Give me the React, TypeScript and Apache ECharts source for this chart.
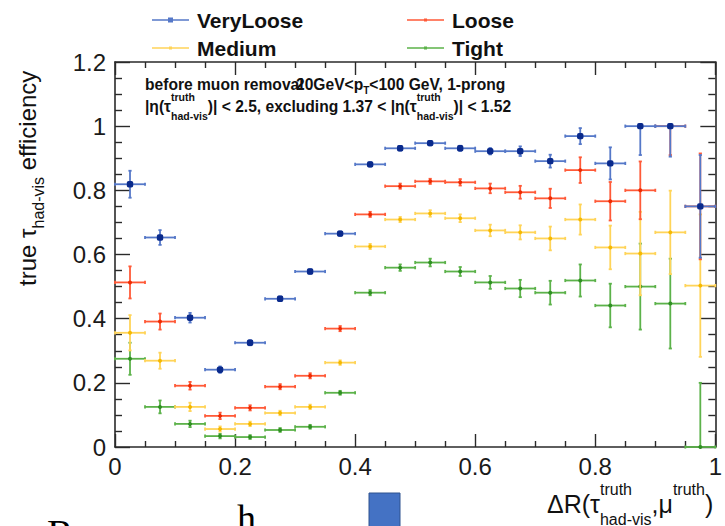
import React, { useEffect, useRef } from 'react';
import * as echarts from 'echarts';

// ---- data ----
const binCenters = [0.025, 0.075, 0.125, 0.175, 0.225, 0.275, 0.325, 0.375, 0.425, 0.475,
  0.525, 0.575, 0.625, 0.675, 0.725, 0.775, 0.825, 0.875, 0.925, 0.975];
const binHalfWidth = 0.025;

const veryLooseEff = [0.819, 0.653, 0.403, 0.241, 0.325, 0.462, 0.547, 0.665, 0.881, 0.931,
  0.947, 0.931, 0.922, 0.922, 0.891, 0.969, 0.884, 1.0, 1.0, 0.75];
const veryLooseErrLow = [0.042, 0.023, 0.015, 0.01, 0.008, 0.007, 0.007, 0.007, 0.007, 0.007,
  0.007, 0.008, 0.01, 0.015, 0.02, 0.025, 0.05, 0.09, 0.095, 0.16];
const veryLooseErrHigh = [0.042, 0.023, 0.015, 0.01, 0.008, 0.007, 0.007, 0.007, 0.007, 0.007,
  0.007, 0.008, 0.01, 0.015, 0.02, 0.025, 0.05, 0, 0, 0.16];

const looseEff = [0.513, 0.391, 0.191, 0.097, 0.122, 0.188, 0.222, 0.369, 0.725, 0.813,
  0.828, 0.825, 0.806, 0.794, 0.775, 0.863, 0.766, 0.8, 1.0, 0.75];
const looseErrLow = [0.05, 0.025, 0.012, 0.01, 0.008, 0.008, 0.008, 0.008, 0.008, 0.008,
  0.008, 0.01, 0.015, 0.02, 0.03, 0.04, 0.06, 0.09, 0.09, 0.165];
const looseErrHigh = [0.05, 0.025, 0.012, 0.01, 0.008, 0.008, 0.008, 0.008, 0.008, 0.008,
  0.008, 0.01, 0.015, 0.02, 0.03, 0.04, 0.06, 0.09, 0, 0.165];

const mediumEff = [0.356, 0.269, 0.125, 0.056, 0.072, 0.106, 0.125, 0.263, 0.625, 0.709,
  0.728, 0.713, 0.675, 0.669, 0.65, 0.709, 0.622, 0.603, 0.669, 0.503];
const mediumErr = [0.055, 0.025, 0.013, 0.008, 0.007, 0.007, 0.007, 0.007, 0.008, 0.008,
  0.01, 0.012, 0.018, 0.022, 0.037, 0.047, 0.068, 0.13, 0.13, 0.222];

const tightEff = [0.275, 0.125, 0.072, 0.034, 0.031, 0.053, 0.063, 0.169, 0.481, 0.559,
  0.575, 0.547, 0.513, 0.494, 0.481, 0.519, 0.441, 0.5, 0.447, 0.0];
const tightErrLow = [0.05, 0.02, 0.01, 0.007, 0.006, 0.006, 0.006, 0.006, 0.008, 0.01,
  0.012, 0.014, 0.02, 0.027, 0.037, 0.05, 0.068, 0.134, 0.14, 0];
const tightErrHigh = [0.05, 0.02, 0.01, 0.007, 0.006, 0.006, 0.006, 0.006, 0.008, 0.01,
  0.012, 0.014, 0.02, 0.027, 0.037, 0.05, 0.068, 0.134, 0.14, 0.2];

const seriesNames = ['VeryLoose', 'Loose', 'Medium', 'Tight'];

// ---- styles ----
const FONT = '"Liberation Sans", Arial, Helvetica, sans-serif';
const SERIF = '"Liberation Serif", "Times New Roman", serif';
const AXIS_COLOR = '#2a2a2a';
const STYLE: Record<string, { line: string; marker: string; big: boolean }> = {
  VeryLoose: { line: '#5578c8', marker: '#0a2a8c', big: true },
  Loose: { line: '#ff5a38', marker: '#ee2a00', big: false },
  Medium: { line: '#ffd459', marker: '#f5b800', big: false },
  Tight: { line: '#5cb24a', marker: '#2f8f22', big: false },
};

function buildData(eff: number[], lo: number[], hi: number[]) {
  return binCenters.map((x, i) => [x, eff[i], lo[i], hi[i]]);
}

const measureCtx = (() => {
  if (typeof document === 'undefined') return null;
  return document.createElement('canvas').getContext('2d');
})();
function textWidth(text: string, size: number, weight: string, family: string) {
  if (!measureCtx) return text.length * size * 0.55;
  measureCtx.font = `${weight} ${size}px ${family}`;
  return measureCtx.measureText(text).width;
}

type Seg =
  | { text: string; size: number }
  | { sup?: string; sub?: string; size: number; supDy?: number; subDy?: number };

function layoutLine(segs: Seg[], x0: number, y0: number, weight: string, fill: string, family = FONT) {
  const els: any[] = [];
  let x = x0;
  for (const s of segs) {
    if ('text' in s) {
      els.push({
        type: 'text', x, y: y0, silent: true,
        style: { text: s.text, fill, fontSize: s.size, fontWeight: weight, fontFamily: family, align: 'left', verticalAlign: 'middle' },
      });
      x += textWidth(s.text, s.size, weight, family);
    } else {
      let w = 0;
      if (s.sup) {
        els.push({
          type: 'text', x, y: y0 + (s.supDy ?? 0), silent: true,
          style: { text: s.sup, fill, fontSize: s.size, fontWeight: weight, fontFamily: family, align: 'left', verticalAlign: 'middle' },
        });
        w = Math.max(w, textWidth(s.sup, s.size, weight, family));
      }
      if (s.sub) {
        els.push({
          type: 'text', x, y: y0 + (s.subDy ?? 0), silent: true,
          style: { text: s.sub, fill, fontSize: s.size, fontWeight: weight, fontFamily: family, align: 'left', verticalAlign: 'middle' },
        });
        w = Math.max(w, textWidth(s.sub, s.size, weight, family));
      }
      x += w;
    }
  }
  return els;
}

function makeRenderItem(name: string) {
  const st = STYLE[name];
  return (params: any, api: any) => {
    const x = api.value(0);
    const y = api.value(1);
    const lo = api.value(2);
    const hi = api.value(3);
    const c = api.coord([x, y]);
    const l = api.coord([x - binHalfWidth, y]);
    const r = api.coord([x + binHalfWidth, y]);
    const t = api.coord([x, y + hi]);
    const b = api.coord([x, y - lo]);
    const ls = { stroke: st.line, lineWidth: 1.8 };
    const cap = 1.6;
    const children: any[] = [
      { type: 'line', shape: { x1: l[0], y1: c[1], x2: r[0], y2: c[1] }, style: ls },
      { type: 'line', shape: { x1: l[0], y1: c[1] - cap, x2: l[0], y2: c[1] + cap }, style: ls },
      { type: 'line', shape: { x1: r[0], y1: c[1] - cap, x2: r[0], y2: c[1] + cap }, style: ls },
    ];
    if (lo + hi > 0) {
      children.push({ type: 'line', shape: { x1: c[0], y1: t[1], x2: c[0], y2: b[1] }, style: ls });
      if (hi > 0) children.push({ type: 'line', shape: { x1: c[0] - cap, y1: t[1], x2: c[0] + cap, y2: t[1] }, style: ls });
      if (lo > 0) children.push({ type: 'line', shape: { x1: c[0] - cap, y1: b[1], x2: c[0] + cap, y2: b[1] }, style: ls });
    }
    if (st.big) {
      children.push({ type: 'rect', shape: { x: c[0] - 3.2, y: c[1] - 3.2, width: 6.4, height: 6.4, r: 1.8 }, style: { fill: st.marker } });
    } else {
      children.push({ type: 'circle', shape: { cx: c[0], cy: c[1], r: 2 }, style: { fill: st.marker } });
    }
    return { type: 'group', children };
  };
}

const ICON_BIG = 'path://M0,2.2L37,2.2L37,3.8L0,3.8Z M16,0.5L21,0.5L21,5.5L16,5.5Z';
const ICON_SMALL = 'path://M0,0.7L37,0.7L37,2.3L0,2.3Z M17,0L20,0L20,3L17,3Z';

function legendFor(name: string, left: number, centerY: number) {
  const big = STYLE[name].big;
  return {
    show: true,
    left,
    top: centerY - 11,
    padding: 0,
    itemWidth: 37,
    itemHeight: big ? 5 : 3,
    symbolKeepAspect: false,
    selectedMode: false,
    data: [{ name, icon: big ? ICON_BIG : ICON_SMALL }],
    textStyle: { fontSize: 21, fontWeight: 'bold', color: '#111', fontFamily: FONT, padding: [0, 0, 0, 3], lineHeight: 22 },
  };
}

export default function App() {
  const ref = useRef<HTMLDivElement>(null);
  useEffect(() => {
    if (!ref.current) return;
    const chart = echarts.init(ref.current, undefined, { renderer: 'svg' });

    const dataMap: Record<string, number[][]> = {
      VeryLoose: buildData(veryLooseEff, veryLooseErrLow, veryLooseErrHigh),
      Loose: buildData(looseEff, looseErrLow, looseErrHigh),
      Medium: buildData(mediumEff, mediumErr, mediumErr),
      Tight: buildData(tightEff, tightErrLow, tightErrHigh),
    };

    const drawOrder = ['Tight', 'Medium', 'Loose', 'VeryLoose'];
    const series = drawOrder.map((name) => ({
      type: 'custom',
      name,
      renderItem: makeRenderItem(name),
      data: dataMap[name],
      encode: { x: 0, y: 1 },
      itemStyle: { color: STYLE[name].line },
      clip: false,
    }));

    const fmt = (v: number) => String(Math.round(v * 10) / 10);
    const axisLine = { show: true, onZero: false, lineStyle: { color: AXIS_COLOR, width: 1.6 } };
    const tickStyle = { color: AXIS_COLOR, width: 1.4 };

    const xBase = {
      type: 'value', min: 0, max: 1, interval: 0.2,
      axisLine, splitLine: { show: false },
      minorSplitLine: { show: false },
    };
    const yBase = {
      type: 'value', min: 0, max: 1.2, interval: 0.2,
      axisLine, splitLine: { show: false },
      minorSplitLine: { show: false },
    };

    const ann = 15.6;
    const graphics: any[] = [
      // annotation line 1
      ...layoutLine([{ text: 'before muon removal', size: ann }], 145, 84, 'bold', '#111'),
      ...layoutLine([
        { text: '20GeV<p', size: ann },
        { sub: 'T', size: 10, subDy: 6 },
        { text: '<100 GeV, 1-prong', size: ann },
      ], 296, 84, 'bold', '#111'),
      // annotation line 2
      ...layoutLine([
        { text: '|\u03b7(\u03c4', size: ann },
        { sup: 'truth', sub: 'had-vis', size: 10.5, supDy: -9, subDy: 10 },
        { text: ')| < 2.5, excluding 1.37 < |\u03b7(\u03c4', size: ann },
        { sup: 'truth', sub: 'had-vis', size: 10.5, supDy: -9, subDy: 10 },
        { text: ')| < 1.52', size: ann },
      ], 145, 106, 'bold', '#111'),
      // x axis title
      ...layoutLine([
        { text: '\u0394R(\u03c4', size: 25 },
        { sup: 'truth', sub: 'had-vis', size: 16, supDy: -15, subDy: 15 },
        { text: ',\u03bc', size: 25 },
        { sup: 'truth', size: 16, supDy: -15 },
        { text: ')', size: 25 },
      ], 547, 504, 'normal', '#111'),
      // y axis title (rotated)
      {
        type: 'group', x: 27, y: 286, rotation: Math.PI / 2, silent: true,
        children: layoutLine([
          { text: 'true \u03c4', size: 24 },
          { sub: 'had-vis', size: 16, subDy: 11 },
          { text: ' efficiency', size: 24 },
        ], 0, 0, 'normal', '#111'),
      },
      // slide remnants below the chart
      { type: 'text', x: 47, y: 533, silent: true, style: { text: 'R', fontSize: 40, fontFamily: SERIF, fill: '#000', align: 'left', verticalAlign: 'middle' } },
      { type: 'text', x: 237, y: 518, silent: true, style: { text: 'h', fontSize: 38, fontFamily: SERIF, fill: '#000', align: 'left', verticalAlign: 'middle' } },
      { type: 'rect', x: 369, y: 493, silent: true, shape: { width: 31, height: 36 }, style: { fill: '#4472c4', stroke: '#2f528f', lineWidth: 1 } },
    ];

    chart.setOption({
      animation: false,
      backgroundColor: '#ffffff',
      grid: { left: 115, right: 8, top: 62, bottom: 79, containLabel: false },
      legend: [
        legendFor('VeryLoose', 152, 20),
        legendFor('Loose', 407, 20),
        legendFor('Medium', 152, 48),
        legendFor('Tight', 407, 48),
      ],
      xAxis: [
        {
          ...xBase, position: 'bottom',
          axisTick: { show: true, inside: true, length: 13, lineStyle: tickStyle },
          minorTick: { show: true, splitNumber: 4, length: 6, lineStyle: tickStyle },
          axisLabel: { show: true, fontSize: 24, color: '#1a1a1a', fontFamily: FONT, margin: 7, formatter: fmt },
        },
        {
          ...xBase, position: 'top',
          axisTick: { show: true, inside: true, length: 13, lineStyle: tickStyle },
          minorTick: { show: true, splitNumber: 4, length: 6, lineStyle: tickStyle },
          axisLabel: { show: false },
        },
      ],
      yAxis: [
        {
          ...yBase, position: 'left',
          axisTick: { show: true, inside: true, length: 15, lineStyle: tickStyle },
          minorTick: { show: true, splitNumber: 4, length: 7, lineStyle: tickStyle },
          axisLabel: { show: true, fontSize: 24, color: '#1a1a1a', fontFamily: FONT, margin: 9, formatter: fmt },
        },
        {
          ...yBase, position: 'right',
          axisTick: { show: true, inside: true, length: 15, lineStyle: tickStyle },
          minorTick: { show: true, splitNumber: 4, length: 7, lineStyle: tickStyle },
          axisLabel: { show: false },
        },
      ],
      series,
      graphic: graphics,
    });

    return () => chart.dispose();
  }, []);

  return <div ref={ref} style={{ width: 725, height: 526, position: 'absolute', left: 0, top: 0 }} />;
}
